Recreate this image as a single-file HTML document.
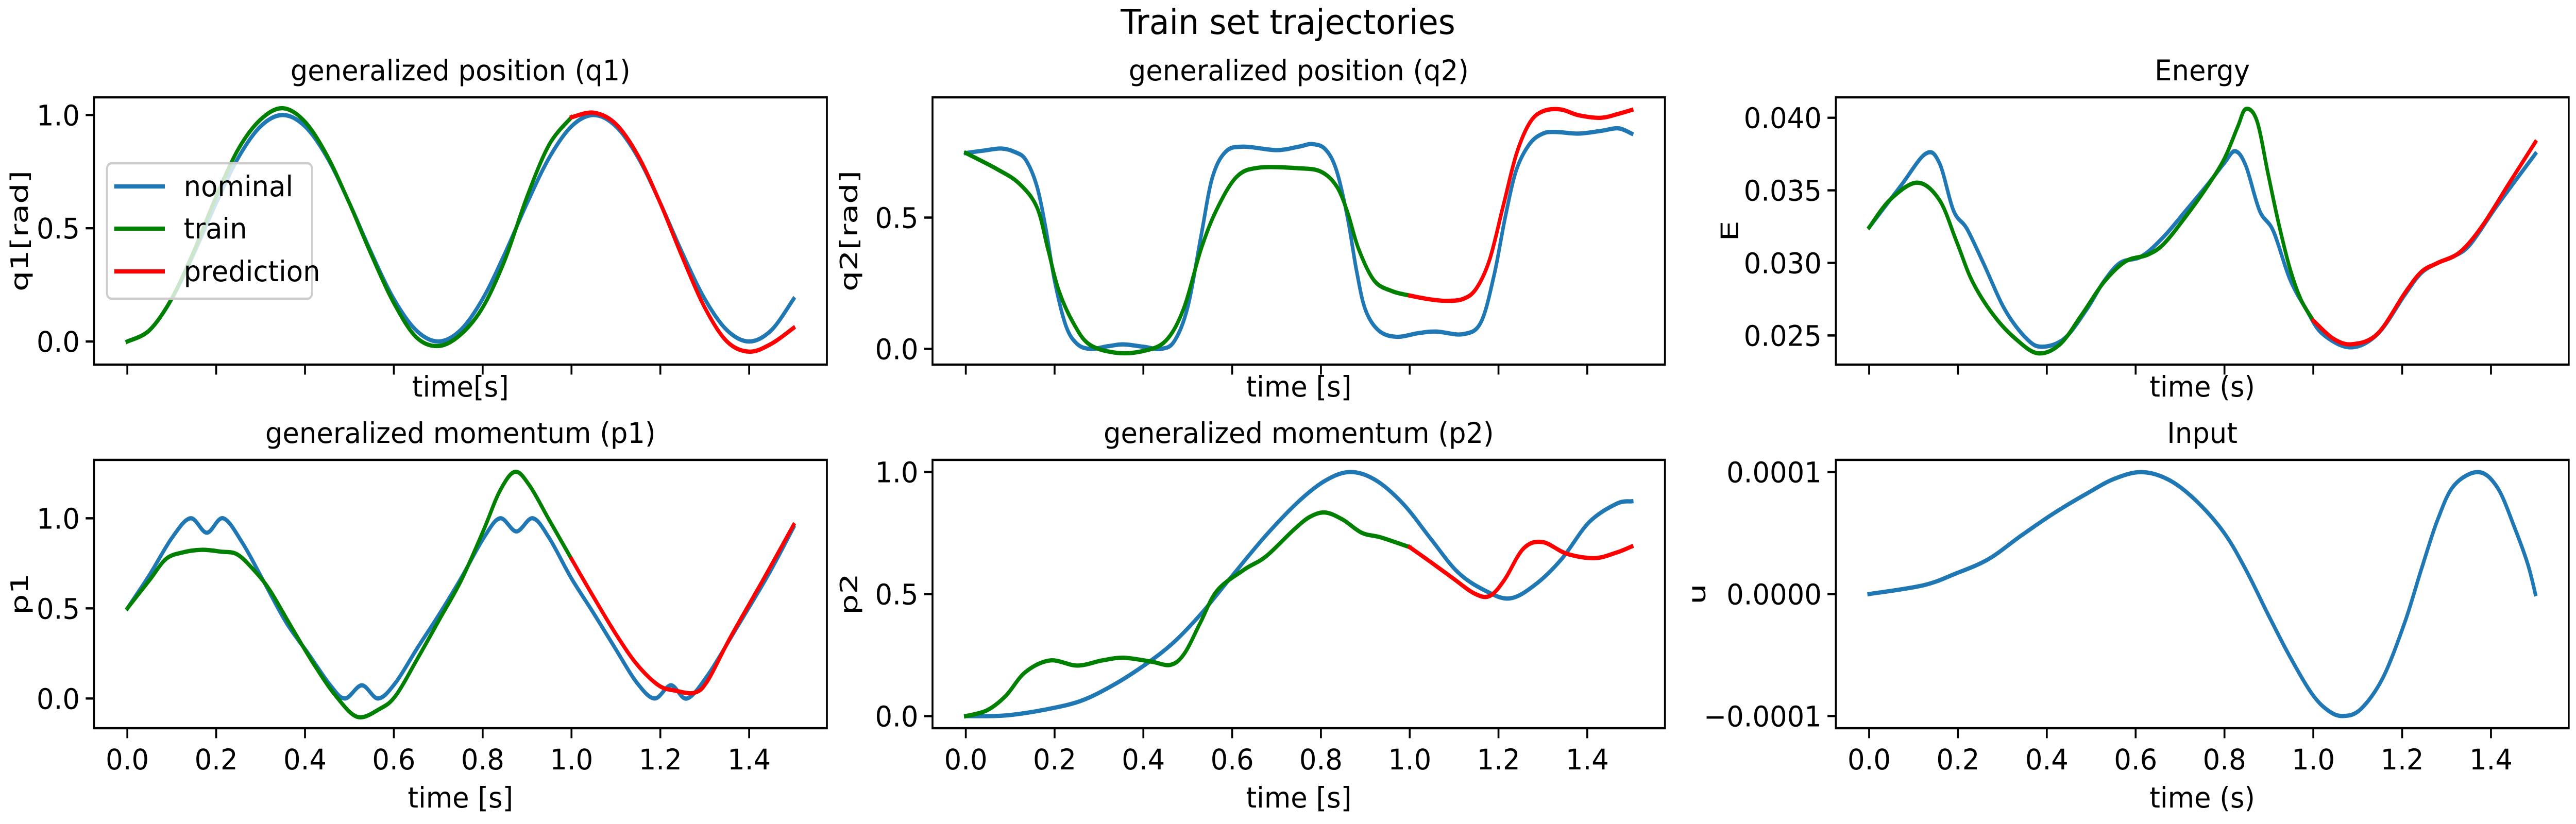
<!DOCTYPE html>
<html><head><meta charset="utf-8">
<style>
html,body{margin:0;padding:0;background:#fff;overflow:hidden;width:100%;height:100%;}
svg{display:block;width:100vw;height:100vh;font-family:"DejaVu Sans","Liberation Sans",sans-serif;}
</style></head>
<body>
<svg id="fig" viewBox="0 0 6000 1600" preserveAspectRatio="none" xmlns="http://www.w3.org/2000/svg">
<rect x="0" y="0" width="6000" height="1600" fill="#fff"/>
<text id="suptitle" x="3000" y="66" font-size="66.7" text-anchor="middle">Train set trajectories</text>
</svg>
<script>
// ---- shared axis data ----
const xTickVals = [0, 0.2, 0.4, 0.6, 0.8, 1.0, 1.2, 1.4];
const xTickLabels = ["0.0","0.2","0.4","0.6","0.8","1.0","1.2","1.4"];
const tUniform = [0,0.05,0.1,0.15,0.2,0.25,0.3,0.35,0.4,0.45,0.5,0.55,0.6,0.65,0.7,0.75,0.8,0.85,0.9,0.95,1.0,1.05,1.1,1.15,1.2,1.25,1.3,1.35,1.4,1.45,1.5];

// ---- q1 ----
const q1NomT = tUniform;
const q1NomV = [0,0.05,0.188,0.389,0.611,0.812,0.95,1.0,0.95,0.812,0.611,0.389,0.188,0.05,0,0.05,0.188,0.389,0.611,0.812,0.95,1.0,0.95,0.812,0.611,0.389,0.188,0.05,0,0.05,0.188];
const q1TrainT = [0,0.05,0.1,0.15,0.2,0.25,0.3,0.35,0.4,0.45,0.5,0.55,0.6,0.65,0.7,0.75,0.8,0.85,0.9,0.95,1.0];
const q1TrainV = [0,0.05,0.19,0.40,0.64,0.85,0.98,1.03,0.97,0.82,0.61,0.38,0.17,0.02,-0.02,0.03,0.15,0.36,0.64,0.87,0.99];
const q1PredT = [1.0,1.05,1.1,1.15,1.2,1.25,1.3,1.35,1.4,1.45,1.5];
const q1PredV = [0.99,1.01,0.96,0.82,0.61,0.37,0.15,0.0,-0.045,-0.01,0.06];
const q1TickVals = [0, 0.5, 1.0];
const q1TickLabels = ["0.0","0.5","1.0"];

// ---- q2 ----
const q2NomT = [0,0.04,0.08,0.11,0.135,0.16,0.18,0.2,0.225,0.25,0.28,0.32,0.355,0.4,0.44,0.47,0.5,0.53,0.555,0.585,0.625,0.7,0.75,0.78,0.81,0.835,0.86,0.88,0.9,0.93,0.97,1.02,1.06,1.12,1.16,1.19,1.215,1.24,1.27,1.3,1.33,1.38,1.43,1.47,1.5];
const q2NomV = [0.746,0.755,0.763,0.75,0.72,0.62,0.46,0.26,0.09,0.02,0.0,0.01,0.017,0.008,0.0,0.03,0.16,0.43,0.65,0.75,0.77,0.757,0.77,0.78,0.76,0.68,0.50,0.30,0.15,0.07,0.046,0.06,0.066,0.056,0.10,0.28,0.50,0.68,0.78,0.82,0.826,0.82,0.83,0.84,0.82];
const q2TrainT = [0,0.07,0.12,0.16,0.185,0.21,0.245,0.28,0.34,0.4,0.45,0.49,0.53,0.565,0.61,0.66,0.75,0.8,0.835,0.86,0.885,0.92,0.96,1.0];
const q2TrainV = [0.746,0.685,0.63,0.54,0.38,0.22,0.09,0.015,-0.015,-0.008,0.03,0.15,0.38,0.53,0.655,0.69,0.688,0.675,0.62,0.52,0.38,0.26,0.22,0.203];
const q2PredT = [1.0,1.04,1.08,1.12,1.15,1.18,1.21,1.24,1.27,1.3,1.34,1.38,1.43,1.47,1.5];
const q2PredV = [0.203,0.19,0.183,0.19,0.23,0.34,0.54,0.74,0.86,0.905,0.912,0.89,0.88,0.895,0.91];
const q2TickVals = [0, 0.5];
const q2TickLabels = ["0.0","0.5"];

// ---- Energy ----
const eNomT = [0,0.07,0.127,0.158,0.19,0.22,0.257,0.306,0.355,0.39,0.44,0.49,0.528,0.565,0.614,0.663,0.713,0.762,0.8,0.824,0.848,0.879,0.91,0.947,0.984,1.02,1.083,1.145,1.206,1.243,1.28,1.317,1.354,1.415,1.5];
const eNomV = [0.03245,0.03526,0.03752,0.0369,0.0336,0.03236,0.0300,0.02676,0.02476,0.02422,0.0248,0.0268,0.0287,0.0300,0.03046,0.0318,0.0336,0.0354,0.0369,0.0377,0.0367,0.0336,0.0322,0.0289,0.0268,0.02513,0.02418,0.0251,0.0278,0.0293,0.0300,0.03046,0.0313,0.0340,0.03752];
const eTrainT = [0,0.047,0.108,0.158,0.197,0.232,0.28,0.33,0.38,0.43,0.478,0.528,0.577,0.626,0.663,0.713,0.762,0.8,0.83,0.848,0.873,0.898,0.922,0.947,0.972,1.0];
const eTrainV = [0.03245,0.03435,0.03553,0.03435,0.03146,0.02875,0.0264,0.02476,0.02377,0.0244,0.0264,0.02865,0.0301,0.03055,0.0313,0.0332,0.0353,0.0372,0.0394,0.0406,0.0398,0.03616,0.03272,0.02965,0.02748,0.02603];
const ePredT = [1.0,1.046,1.089,1.145,1.206,1.243,1.28,1.33,1.38,1.44,1.5];
const ePredV = [0.02603,0.02476,0.0244,0.02513,0.02793,0.02938,0.0300,0.03074,0.03254,0.03544,0.03833];
const eTickVals = [0.025, 0.030, 0.035, 0.040];
const eTickLabels = ["0.025","0.030","0.035","0.040"];

// ---- p1 ----
const p1NomT = [0,0.05,0.1,0.142,0.179,0.216,0.26,0.309,0.358,0.407,0.457,0.49,0.528,0.565,0.604,0.653,0.703,0.752,0.802,0.839,0.876,0.913,0.95,0.999,1.048,1.098,1.147,1.187,1.224,1.26,1.307,1.369,1.443,1.5];
const p1NomV = [0.5,0.686,0.89,1.0,0.92,1.0,0.86,0.64,0.42,0.25,0.073,0.0,0.073,0.0,0.088,0.28,0.47,0.67,0.89,1.0,0.927,1.0,0.89,0.67,0.48,0.28,0.088,0.0,0.073,0.0,0.13,0.38,0.686,0.95];
const p1TrainT = [0,0.05,0.087,0.124,0.167,0.21,0.247,0.284,0.321,0.37,0.42,0.469,0.518,0.568,0.604,0.653,0.703,0.752,0.802,0.839,0.873,0.906,0.95,1.0];
const p1TrainV = [0.5,0.657,0.774,0.81,0.825,0.815,0.80,0.715,0.60,0.394,0.19,0.015,-0.102,-0.058,0.015,0.22,0.44,0.657,0.934,1.153,1.258,1.18,0.99,0.774];
const p1PredT = [1.0,1.048,1.098,1.147,1.196,1.233,1.277,1.307,1.357,1.431,1.5];
const p1PredV = [0.774,0.57,0.365,0.19,0.073,0.044,0.032,0.10,0.336,0.657,0.963];
const p1TickVals = [0, 0.5, 1.0];
const p1TickLabels = ["0.0","0.5","1.0"];

// ---- p2 ----
const p2NomT = [0,0.085,0.171,0.257,0.331,0.405,0.467,0.529,0.602,0.676,0.75,0.812,0.867,0.923,0.985,1.046,1.108,1.17,1.225,1.281,1.342,1.404,1.466,1.5];
const p2NomV = [0,0.002,0.024,0.061,0.126,0.212,0.30,0.417,0.579,0.74,0.88,0.967,1.0,0.967,0.87,0.73,0.59,0.514,0.482,0.536,0.643,0.794,0.87,0.88];
const p2TrainT = [0,0.048,0.09,0.134,0.19,0.251,0.307,0.356,0.418,0.461,0.492,0.529,0.566,0.627,0.676,0.738,0.775,0.81,0.849,0.892,0.935,1.0];
const p2TrainV = [0,0.024,0.083,0.18,0.228,0.207,0.228,0.239,0.223,0.21,0.255,0.385,0.514,0.60,0.654,0.762,0.816,0.834,0.805,0.751,0.732,0.692];
const p2PredT = [1.0,1.046,1.095,1.145,1.18,1.213,1.256,1.299,1.354,1.416,1.466,1.5];
const p2PredV = [0.692,0.633,0.568,0.503,0.492,0.557,0.686,0.713,0.665,0.647,0.67,0.695];
const p2TickVals = [0, 0.5, 1.0];
const p2TickLabels = ["0.0","0.5","1.0"];

// ---- Input u ----
const uNomT = [0,0.121,0.195,0.269,0.343,0.417,0.491,0.552,0.614,0.676,0.737,0.799,0.848,0.898,0.947,0.996,1.033,1.067,1.107,1.157,1.206,1.243,1.28,1.317,1.372,1.415,1.453,1.483,1.5];
const uNomV = [0,0.0000071,0.0000168,0.0000287,0.0000481,0.0000665,0.0000826,0.0000945,0.0001,0.0000934,0.0000762,0.0000503,0.000020,-0.0000166,-0.0000511,-0.0000813,-0.0000954,-0.0001,-0.0000943,-0.0000684,-0.0000231,0.000020,0.000061,0.0000891,0.0001,0.000087,0.0000546,0.0000244,0.0];
const uTickVals = [-0.0001, 0, 0.0001];
const uTickLabels = ["\u22120.0001","0.0000","0.0001"];

const BLUE = "#1f77b4", GREEN = "#008000", RED = "#ff0000";
const FS = 55.6;
const WIDEN = 1.14;
const svg = document.getElementById('fig');
const NS = "http://www.w3.org/2000/svg";
const allTexts = [document.getElementById('suptitle')];

function mk(tag, attrs, parent) {
  const e = document.createElementNS(NS, tag);
  for (const k in attrs) e.setAttribute(k, attrs[k]);
  (parent || svg).appendChild(e);
  if (tag === 'text') allTexts.push(e);
  return e;
}

function crPath(pts) {
  let d = "M" + pts[0][0].toFixed(1) + "," + pts[0][1].toFixed(1);
  for (let i = 0; i < pts.length - 1; i++) {
    const p0 = pts[Math.max(0, i - 1)], p1 = pts[i], p2 = pts[i + 1], p3 = pts[Math.min(pts.length - 1, i + 2)];
    const c1x = p1[0] + (p2[0] - p0[0]) / 6, c1y = p1[1] + (p2[1] - p0[1]) / 6;
    const c2x = p2[0] - (p3[0] - p1[0]) / 6, c2y = p2[1] - (p3[1] - p1[1]) / 6;
    d += " C" + c1x.toFixed(1) + "," + c1y.toFixed(1) + " " + c2x.toFixed(1) + "," + c2y.toFixed(1) + " " + p2[0].toFixed(1) + "," + p2[1].toFixed(1);
  }
  return d;
}

const panels = [
  {id:"q1", x0:219, x1:1926, y0:189, y1:708, ylim:[-0.102,1.078], title:"generalized position (q1)", xlabel:"time[s]", ylabel:"q1[rad]", ylx:45, ticks:q1TickVals, tlabels:q1TickLabels, xlabels:false,
   series:[[q1NomT,q1NomV,BLUE,"nominal"],[q1TrainT,q1TrainV,GREEN,"train"],[q1PredT,q1PredV,RED,"prediction"]], legend:true},
  {id:"q2", x0:2172, x1:3878, y0:189, y1:708, ylim:[-0.06,0.958], title:"generalized position (q2)", xlabel:"time [s]", ylabel:"q2[rad]", ylx:1977, ticks:q2TickVals, tlabels:q2TickLabels, xlabels:false,
   series:[[q2NomT,q2NomV,BLUE,"nominal"],[q2TrainT,q2TrainV,GREEN,"train"],[q2PredT,q2PredV,RED,"prediction"]]},
  {id:"energy", x0:4276, x1:5983, y0:189, y1:708, ylim:[0.02299,0.04141], title:"Energy", xlabel:"time (s)", ylabel:"E", ylx:4028, ticks:eTickVals, tlabels:eTickLabels, xlabels:false,
   series:[[eNomT,eNomV,BLUE,"nominal"],[eTrainT,eTrainV,GREEN,"train"],[ePredT,ePredV,RED,"prediction"]]},
  {id:"p1", x0:219, x1:1926, y0:893, y1:1414, ylim:[-0.165,1.324], title:"generalized momentum (p1)", xlabel:"time [s]", ylabel:"p1", ylx:45, ticks:p1TickVals, tlabels:p1TickLabels, xlabels:true,
   series:[[p1NomT,p1NomV,BLUE,"nominal"],[p1TrainT,p1TrainV,GREEN,"train"],[p1PredT,p1PredV,RED,"prediction"]]},
  {id:"p2", x0:2172, x1:3878, y0:893, y1:1414, ylim:[-0.0496,1.0496], title:"generalized momentum (p2)", xlabel:"time [s]", ylabel:"p2", ylx:1977, ticks:p2TickVals, tlabels:p2TickLabels, xlabels:true,
   series:[[p2NomT,p2NomV,BLUE,"nominal"],[p2TrainT,p2TrainV,GREEN,"train"],[p2PredT,p2PredV,RED,"prediction"]]},
  {id:"input", x0:4276, x1:5983, y0:893, y1:1414, ylim:[-0.00011,0.00011], title:"Input", xlabel:"time (s)", ylabel:"u", ylx:3952, ticks:uTickVals, tlabels:uTickLabels, xlabels:true,
   series:[[uNomT,uNomV,BLUE,"nominal"]]}
];
const XLIM = [-0.075, 1.575];

panels.forEach(P => {
  const g = mk('g', {});
  
  
  const sx = t => P.x0 + (t - XLIM[0]) / (XLIM[1] - XLIM[0]) * (P.x1 - P.x0);
  const sy = v => P.y1 - (v - P.ylim[0]) / (P.ylim[1] - P.ylim[0]) * (P.y1 - P.y0);
  const cx = (P.x0 + P.x1) / 2, cy = (P.y0 + P.y1) / 2;

  const clipId = 'clip-' + P.id;
  const cp = mk('clipPath', {id: clipId}, g);
  mk('rect', {x:P.x0, y:P.y0, width:P.x1-P.x0, height:P.y1-P.y0}, cp);

  P.series.forEach(s => {
    const pts = s[0].map((t, i) => [sx(t), sy(s[1][i])]);
    const path = mk('path', {d: crPath(pts), fill:'none', stroke:s[2], 'stroke-width':8.3, 'stroke-linecap':'square', 'stroke-linejoin':'round', 'clip-path':'url(#'+clipId+')'}, g);
    
    
  });

  const fr = mk('rect', {x:P.x0, y:P.y0, width:P.x1-P.x0, height:P.y1-P.y0, fill:'none', stroke:'#000', 'stroke-width':4.4}, g);
  
  

  xTickVals.forEach((t, i) => {
    const x = sx(t);
    const tk = mk('line', {x1:x, x2:x, y1:P.y1, y2:P.y1 + 19.4, stroke:'#000', 'stroke-width':4.4}, g);
    
    
    if (P.xlabels) {
      const tl = mk('text', {x:x, y:P.y1 + 80, 'font-size':FS, 'text-anchor':'middle'}, g);
      tl.textContent = xTickLabels[i];
      
      
    }
  });
  P.ticks.forEach((v, i) => {
    const y = sy(v);
    const tk = mk('line', {x1:P.x0 - 19.4, x2:P.x0, y1:y, y2:y, stroke:'#000', 'stroke-width':4.4}, g);
    
    
    const tl = mk('text', {x:P.x0 - 33, y:y + 20, 'font-size':FS, 'text-anchor':'end'}, g);
    tl.textContent = P.tlabels[i];
    
    
  });

  const ti = mk('text', {x:cx, y:P.y0 - 33, 'font-size':FS, 'text-anchor':'middle'}, g);
  ti.textContent = P.title;
  
  

  const xl = mk('text', {x:cx, y:P.xlabels ? P.y1 + 154 : P.y1 + 62, 'font-size':FS, 'text-anchor':'middle'}, g);
  xl.textContent = P.xlabel;
  
  

  const yl = mk('text', {x:0, y:0, 'font-size':FS, 'text-anchor':'middle', transform:'translate(' + (P.ylx + 20) + ',' + cy + ') rotate(-90)'}, g);
  yl.textContent = P.ylabel;
  
  

  if (P.legend) {
    const lg = mk('g', {}, g);
    
    
    mk('rect', {x:249, y:317, width:478, height:263, rx:11, ry:11, fill:'#fff', 'fill-opacity':0.8, stroke:'#cccccc', 'stroke-width':4.4}, lg);
    const rows = [362, 444, 527];
    P.series.forEach((s, i) => {
      const ln = mk('line', {x1:266, x2:384, y1:rows[i], y2:rows[i], stroke:s[2], 'stroke-width':8.3}, lg);
      
      
      const lt = mk('text', {x:428, y:rows[i] + 19, 'font-size':FS}, lg);
      lt.textContent = s[3];
      
      
    });
  }
});

// widen glyph runs to match the reference font's wider metrics
allTexts.forEach(t => {
  try {
    const w = t.getComputedTextLength();
    if (w > 0) {
      t.setAttribute('textLength', (w * WIDEN).toFixed(1));
      t.setAttribute('lengthAdjust', 'spacingAndGlyphs');
    }
  } catch (e) {}
});
</script>
</body></html>
